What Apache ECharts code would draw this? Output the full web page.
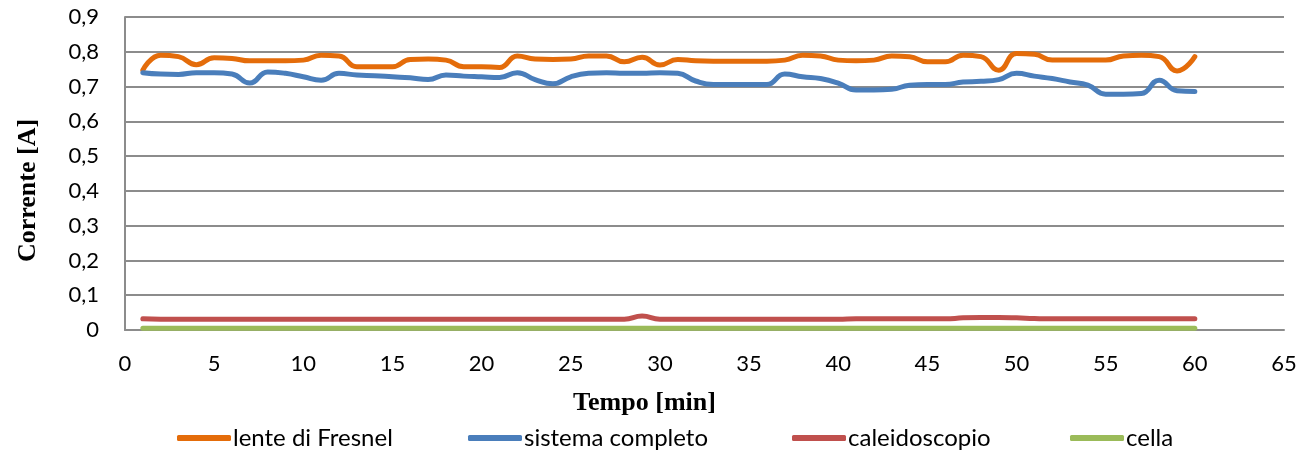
<!DOCTYPE html>
<html>
<head>
<meta charset="utf-8">
<script src="https://cdn.jsdelivr.net/npm/echarts@6/dist/echarts.min.js"></script>
<style>
  html, body { margin: 0; padding: 0; background: #fff; }
  #chart { width: 1311px; height: 450px; }
</style>
</head>
<body>
<div id="chart"></div>
<script>
// minuti di misura
const minuti = [];
for (let m = 1; m <= 60; m++) minuti.push(m);

const lenteFresnel = [
  0.747, 0.790, 0.786, 0.763, 0.783, 0.781, 0.774, 0.774, 0.774, 0.776,
  0.790, 0.788, 0.757, 0.757, 0.757, 0.778, 0.779, 0.776, 0.757, 0.757,
  0.755, 0.788, 0.779, 0.778, 0.779, 0.788, 0.788, 0.771, 0.784, 0.762,
  0.778, 0.774, 0.773, 0.773, 0.773, 0.773, 0.776, 0.790, 0.788, 0.776,
  0.774, 0.776, 0.788, 0.786, 0.771, 0.771, 0.790, 0.786, 0.747, 0.795,
  0.793, 0.776, 0.776, 0.776, 0.776, 0.788, 0.790, 0.786, 0.745, 0.786
];

const sistemaCompleto = [
  0.740, 0.736, 0.735, 0.740, 0.740, 0.736, 0.710, 0.742, 0.738, 0.728,
  0.718, 0.738, 0.733, 0.731, 0.728, 0.725, 0.720, 0.733, 0.730, 0.728,
  0.726, 0.740, 0.720, 0.708, 0.728, 0.738, 0.740, 0.738, 0.738, 0.740,
  0.738, 0.716, 0.706, 0.706, 0.706, 0.706, 0.736, 0.728, 0.723, 0.710,
  0.690, 0.690, 0.692, 0.704, 0.706, 0.706, 0.713, 0.715, 0.720, 0.738,
  0.730, 0.723, 0.713, 0.704, 0.678, 0.678, 0.680, 0.718, 0.688, 0.686
];

const caleidoscopio = [
  0.032, 0.031, 0.031, 0.031, 0.031, 0.031, 0.031, 0.031, 0.031, 0.031,
  0.031, 0.031, 0.031, 0.031, 0.031, 0.031, 0.031, 0.031, 0.031, 0.031,
  0.031, 0.031, 0.031, 0.031, 0.031, 0.031, 0.031, 0.031, 0.040, 0.031,
  0.031, 0.031, 0.031, 0.031, 0.031, 0.031, 0.031, 0.031, 0.031, 0.031,
  0.032, 0.032, 0.032, 0.032, 0.032, 0.032, 0.035, 0.036, 0.036, 0.035,
  0.033, 0.032, 0.032, 0.032, 0.032, 0.032, 0.032, 0.032, 0.032, 0.032
];

const cella = [
  0.005, 0.005, 0.005, 0.005, 0.005, 0.005, 0.005, 0.005, 0.005, 0.005,
  0.005, 0.005, 0.005, 0.005, 0.005, 0.005, 0.005, 0.005, 0.005, 0.005,
  0.005, 0.005, 0.005, 0.005, 0.005, 0.005, 0.005, 0.005, 0.005, 0.005,
  0.005, 0.005, 0.005, 0.005, 0.005, 0.005, 0.005, 0.005, 0.005, 0.005,
  0.005, 0.005, 0.005, 0.005, 0.005, 0.005, 0.005, 0.005, 0.005, 0.005,
  0.005, 0.005, 0.005, 0.005, 0.005, 0.005, 0.005, 0.005, 0.005, 0.005
];

const nomi = ['lente di Fresnel', 'sistema completo', 'caleidoscopio', 'cella'];
const colori = ['#E46C0A', '#4A7EBB', '#C0504D', '#9BBB59'];
const valori = [lenteFresnel, sistemaCompleto, caleidoscopio, cella];
const legendaX = [177, 468, 792, 1070];

const fontTick = 'Lato';
const fontTitolo = '"Liberation Serif", "Times New Roman", serif';

const chart = echarts.init(document.getElementById('chart'));

const option = {
  animation: false,
  grid: { left: 125, right: 27, top: 17, bottom: 120 },
  legend: nomi.map((n, i) => ({
    data: [{ name: n, icon: 'roundRect' }],
    left: legendaX[i],
    top: 426,
    padding: 0,
    itemWidth: 54,
    itemHeight: 6,
    itemGap: 4,
    textStyle: { fontFamily: fontTick, fontSize: 24, color: '#000', padding: [0, 0, 0, -3] }
  })),
  xAxis: {
    type: 'value',
    min: 0,
    max: 65,
    interval: 5,
    name: 'Tempo [min]',
    nameLocation: 'middle',
    nameGap: 60,
    nameTextStyle: {
      fontFamily: fontTitolo, fontWeight: 'bold', fontSize: 26, color: '#000',
      padding: [0, 120, 0, 0]
    },
    axisLine: { show: true, lineStyle: { color: '#8c8c8c', width: 2 } },
    axisTick: { show: false },
    splitLine: { show: false },
    axisLabel: { fontFamily: fontTick, fontSize: 22, color: '#000', margin: 23 }
  },
  yAxis: {
    type: 'value',
    min: 0,
    max: 0.9,
    interval: 0.1,
    name: 'Corrente [A]',
    nameLocation: 'middle',
    nameGap: 84,
    nameTextStyle: {
      fontFamily: fontTitolo, fontWeight: 'bold', fontSize: 26, color: '#000',
      padding: [0, 34, 0, 0]
    },
    axisLine: { show: true, lineStyle: { color: '#8c8c8c', width: 2 } },
    axisTick: { show: false },
    splitLine: { show: true, lineStyle: { color: '#8c8c8c', width: 2 } },
    axisLabel: {
      fontFamily: fontTick, fontSize: 22, color: '#000', margin: 26,
      formatter: v => (v === 0 ? '0' : v.toFixed(1).replace('.', ','))
    }
  },
  series: nomi.map((n, i) => ({
    name: n,
    type: 'line',
    smooth: 0.5,
    showSymbol: false,
    symbol: 'none',
    color: colori[i],
    lineStyle: { width: 5, color: colori[i], cap: 'round' },
    data: minuti.map((m, k) => [m, valori[i][k]])
  }))
};

chart.setOption(option);
</script>
</body>
</html>
